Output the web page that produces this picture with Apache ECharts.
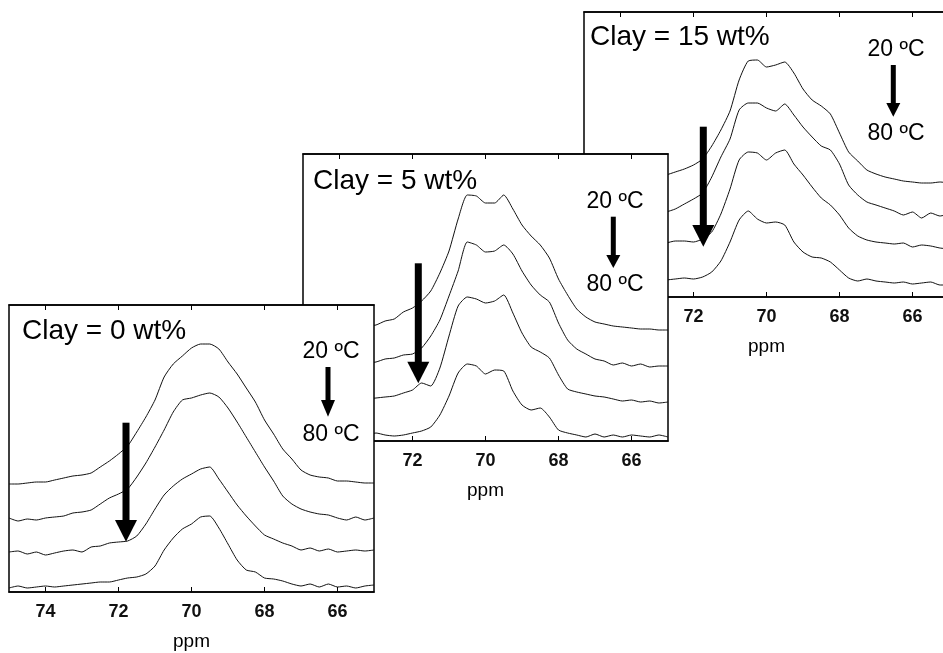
<!DOCTYPE html>
<html>
<head>
<meta charset="utf-8">
<script src="https://cdn.jsdelivr.net/npm/echarts@6/dist/echarts.min.js"></script>
<style>
  html, body { margin: 0; padding: 0; background: #fff; }
  #main { width: 943px; height: 653px; }
</style>
</head>
<body>
<div id="main"></div>
<script>
// chemical shift grid (ppm), read at 0.25 ppm steps
const ppm = [75, 74.75, 74.5, 74.25, 74, 73.75, 73.5, 73.25, 73, 72.75, 72.5, 72.25, 72, 71.75, 71.5, 71.25, 71,
  70.75, 70.5, 70.25, 70, 69.75, 69.5, 69.25, 69, 68.75, 68.5, 68.25, 68, 67.75, 67.5, 67.25, 67,
  66.75, 66.5, 66.25, 66, 65.75, 65.5, 65.25, 65]
const tickValues = [74, 72, 70, 68, 66]

// stacked spectra, heights above panel floor (20 ºC on top -> 80 ºC at bottom)
const clay0_20 = [108, 108, 109, 110, 110, 112, 114, 116, 117, 119, 125, 131, 138, 146, 160, 175, 192,
  215, 228, 236, 244, 248, 248, 243, 230, 218, 204, 190, 172, 158, 143, 133, 122, 117, 115, 114, 111, 111, 110, 109, 109]
const clay0_40 = [74, 71, 73, 72, 74, 75, 76, 79, 80, 82, 88, 94, 98, 103, 115, 129, 145,
  162, 180, 192, 194, 197, 199, 195, 184, 170, 155, 140, 125, 111, 96, 88, 83, 80, 78, 77, 74, 72, 75, 72, 74]
const clay0_60 = [40, 41, 38, 40, 37, 39, 41, 42, 40, 45, 46, 49, 50, 51, 56, 68, 83,
  97, 106, 113, 118, 123, 125, 113, 100, 87, 76, 66, 57, 53, 49, 46, 42, 44, 41, 43, 40, 41, 42, 41, 42]
const clay0_80 = [4, 6, 4, 5, 6, 5, 6, 7, 8, 9, 10, 10, 12, 14, 15, 18, 26,
  42, 54, 63, 68, 75, 76, 64, 48, 32, 22, 20, 14, 13, 11, 8, 6, 8, 5, 8, 5, 6, 4, 6, 7]

const clay5_20 = [110, 110, 111, 111, 112, 112, 113, 115, 116, 120, 122, 129, 133, 140, 150, 168, 190,
  222, 246, 245, 238, 238, 246, 232, 216, 205, 196, 183, 162, 146, 132, 124, 119, 117, 115, 114, 113, 112, 112, 111, 111]
const clay5_40 = [74, 75, 73, 76, 75, 77, 76, 78, 79, 82, 83, 86, 87, 93, 105, 121, 145,
  170, 199, 196, 189, 190, 196, 187, 170, 156, 146, 139, 118, 101, 92, 87, 82, 80, 76, 78, 75, 77, 74, 75, 75]
const clay5_60 = [38, 40, 38, 40, 39, 41, 40, 42, 43, 44, 45, 48, 51, 58, 55, 73, 105,
  135, 144, 142, 138, 140, 146, 128, 108, 94, 89, 83, 66, 52, 49, 47, 45, 44, 42, 40, 41, 39, 40, 38, 39]
const clay5_80 = [6, 5, 7, 5, 6, 5, 7, 6, 8, 6, 5, 6, 8, 10, 14, 26, 45,
  68, 77, 75, 67, 71, 70, 50, 36, 31, 33, 24, 11, 8, 6, 4, 7, 4, 6, 4, 6, 5, 4, 6, 4]

const clay15_20 = [116, 116, 117, 117, 118, 118, 119, 119, 120, 122, 125, 128, 132, 138, 151, 167, 186,
  217, 236, 237, 230, 232, 235, 224, 208, 197, 191, 183, 164, 145, 136, 127, 123, 120, 118, 116, 115, 114, 114, 115, 114]
const clay15_40 = [78, 79, 78, 80, 80, 81, 82, 82, 83, 85, 88, 93, 98, 104, 120, 140, 158,
  187, 194, 194, 189, 186, 193, 182, 170, 160, 151, 147, 133, 112, 102, 95, 92, 89, 86, 82, 85, 79, 84, 81, 83]
const clay15_60 = [50, 51, 50, 51, 52, 51, 52, 53, 53, 54, 56, 56, 55, 58, 65, 83, 108,
  137, 145, 144, 137, 144, 147, 133, 122, 110, 99, 92, 82, 69, 61, 57, 55, 54, 53, 54, 50, 52, 51, 49, 48]
const clay15_80 = [14, 15, 14, 16, 15, 16, 15, 17, 16, 17, 18, 19, 18, 20, 25, 36, 55,
  77, 86, 78, 74, 75, 72, 55, 45, 40, 39, 35, 27, 19, 16, 18, 16, 15, 14, 15, 13, 14, 15, 12, 12]

// drawn back to front: 15 wt% behind, 0 wt% in front
const panels = [
  {
    left: 584, top: 12, width: 365, height: 285, z: 10,
    label: 'Clay = 15 wt%', traces: [clay15_20, clay15_40, clay15_60, clay15_80],
    clayPos: [590, 37.5], tPos: [896, 49.5, 133.5],
    bigArrow: [703.3, 126.7, 225, 246.7], smallArrow: [893.3, 65, 103, 116.7]
  },
  {
    left: 303, top: 154, width: 365, height: 287, z: 20,
    label: 'Clay = 5 wt%', traces: [clay5_20, clay5_40, clay5_60, clay5_80],
    clayPos: [313, 181], tPos: [615, 201.5, 284.5],
    bigArrow: [418.3, 263.3, 361.7, 383.3], smallArrow: [613.3, 216.7, 255, 268]
  },
  {
    left: 9, top: 305, width: 365, height: 287, z: 30,
    label: 'Clay = 0 wt%', traces: [clay0_20, clay0_40, clay0_60, clay0_80],
    clayPos: [22, 331.7], tPos: [331, 351.5, 434.5],
    bigArrow: [126, 422.7, 520, 541.7], smallArrow: [328, 367, 400, 416.7]
  }
]

const FONT = 'Liberation Sans, Arial, sans-serif'

function arrow(a, shaftW, headW, z) {
  const [cx, top, base, tip] = a
  return {
    type: 'group',
    z: z,
    children: [
      { type: 'rect', z: z, shape: { x: cx - shaftW / 2, y: top, width: shaftW, height: base - top + 1 }, style: { fill: '#000' } },
      { type: 'polygon', z: z, shape: { points: [[cx - headW / 2, base], [cx + headW / 2, base], [cx, tip]] }, style: { fill: '#000' } }
    ]
  }
}

const grids = []
const xAxes = []
const yAxes = []
const series = []
const graphics = []

panels.forEach((p, i) => {
  grids.push({
    left: p.left, top: p.top, width: p.width, height: p.height,
    outerBoundsMode: 'none', containLabel: false,
    show: true, backgroundColor: '#fff', borderColor: '#000', borderWidth: 1.5, z: p.z
  })
  const axisBase = {
    gridIndex: i, type: 'value', min: 65, max: 75, inverse: true, z: p.z + 3,
    axisLine: { show: true, onZero: false, lineStyle: { color: '#000', width: 1.5 } },
    axisTick: { show: true, inside: true, length: 5, customValues: tickValues, lineStyle: { color: '#000', width: 1 } },
    splitLine: { show: false }
  }
  xAxes.push(Object.assign({}, axisBase, {
    position: 'bottom',
    axisLabel: { customValues: tickValues, fontSize: 18, fontWeight: 'bold', color: '#111', margin: 11, fontFamily: FONT },
    name: 'ppm', nameLocation: 'middle', nameGap: 40,
    nameTextStyle: { fontSize: 19, color: '#000', fontFamily: FONT }
  }))
  xAxes.push(Object.assign({}, axisBase, {
    position: 'top',
    axisLabel: { show: false }
  }))
  yAxes.push({ gridIndex: i, type: 'value', min: 0, max: p.height, show: false })

  p.traces.forEach(tr => {
    series.push({
      type: 'line',
      xAxisIndex: 2 * i,
      yAxisIndex: i,
      data: ppm.map((x, k) => [x, tr[k]]),
      symbol: 'none',
      smooth: 0.2,
      silent: true,
      z: p.z + 2,
      lineStyle: { color: '#111', width: 1 }
    })
  })

  graphics.push({
    type: 'text', z: p.z + 5, x: p.clayPos[0], y: p.clayPos[1],
    style: { text: p.label, font: '28px ' + FONT, fill: '#000', align: 'left', verticalAlign: 'middle' }
  })
  graphics.push({
    type: 'text', z: p.z + 5, x: p.tPos[0], y: p.tPos[1],
    style: { text: '20 ºC', font: '23px ' + FONT, fill: '#000', align: 'center', verticalAlign: 'middle' }
  })
  graphics.push({
    type: 'text', z: p.z + 5, x: p.tPos[0], y: p.tPos[2],
    style: { text: '80 ºC', font: '23px ' + FONT, fill: '#000', align: 'center', verticalAlign: 'middle' }
  })
  graphics.push(arrow(p.bigArrow, 7, 22, p.z + 5))
  graphics.push(arrow(p.smallArrow, 5, 14, p.z + 5))
})

const chart = echarts.init(document.getElementById('main'))
chart.setOption({
  animation: false,
  backgroundColor: '#fff',
  grid: grids,
  xAxis: xAxes,
  yAxis: yAxes,
  series: series,
  graphic: { elements: graphics }
})
</script>
</body>
</html>
